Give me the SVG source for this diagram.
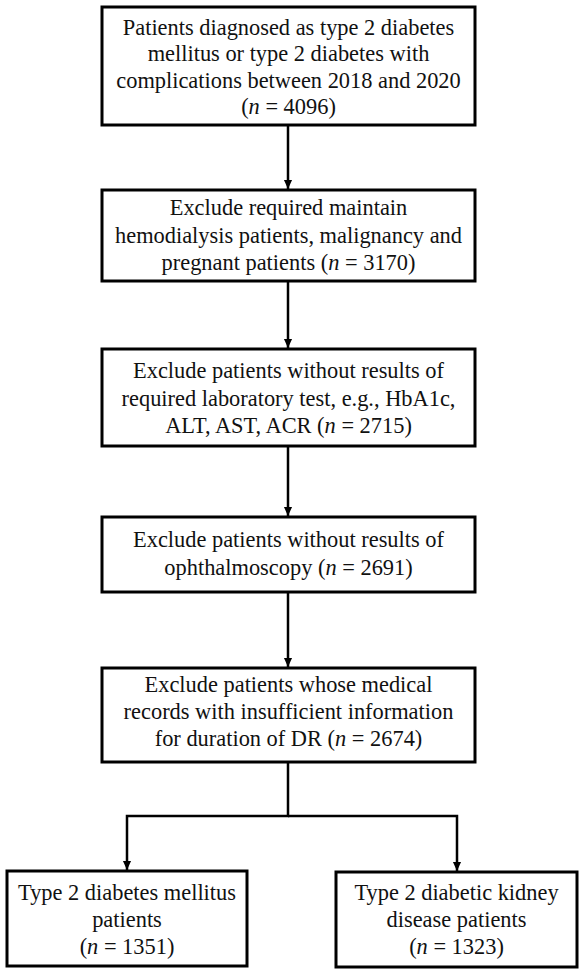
<svg xmlns="http://www.w3.org/2000/svg" width="583" height="971" viewBox="0 0 583 971">
<style>
.box{fill:#fff;stroke:#000;stroke-width:3}
.t{font-family:'Liberation Serif','Times New Roman',Tinos,'DejaVu Serif',serif;font-size:22.4px;fill:#111;text-anchor:middle}
.i{font-style:italic}
.c{fill:none;stroke:#000;stroke-width:2.5}
</style>
<defs>
<marker id="arr" markerWidth="9" markerHeight="10" refX="10" refY="4.5" orient="auto" markerUnits="userSpaceOnUse" viewBox="0 0 10 9">
<path d="M0,0 L10,4.5 L0,9 Z" fill="#000"/>
</marker>
</defs>
<rect width="583" height="971" fill="#fff"/>
<g id="connectors">
<line class="c" x1="288" y1="125" x2="288" y2="189" marker-end="url(#arr)"/>
<line class="c" x1="288" y1="281" x2="288" y2="348" marker-end="url(#arr)"/>
<line class="c" x1="288" y1="446" x2="288" y2="516" marker-end="url(#arr)"/>
<line class="c" x1="288" y1="592" x2="288" y2="667" marker-end="url(#arr)"/>
<polyline class="c" points="288,762 288,816 127,816 127,870" marker-end="url(#arr)"/>
<polyline class="c" points="288,816 457,816 457,871" marker-end="url(#arr)"/>
</g>
<g id="n1">
<rect class="box" x="102" y="7" width="373" height="118"/>
<text class="t" x="288.5" y="35">Patients diagnosed as type 2 diabetes</text>
<text class="t" x="288.5" y="61">mellitus or type 2 diabetes with</text>
<text class="t" x="288.5" y="88">complications between 2018 and 2020</text>
<text class="t" x="288.5" y="114">(<tspan class="i">n</tspan> = 4096)</text>
</g>
<g id="n2">
<rect class="box" x="102" y="190" width="373" height="91"/>
<text class="t" x="288.5" y="215">Exclude required maintain</text>
<text class="t" x="288.5" y="243">hemodialysis patients, malignancy and</text>
<text class="t" x="288.5" y="270">pregnant patients (<tspan class="i">n</tspan> = 3170)</text>
</g>
<g id="n3">
<rect class="box" x="102" y="349" width="373" height="97"/>
<text class="t" x="288.5" y="378">Exclude patients without results of</text>
<text class="t" x="288.5" y="406">required laboratory test, e.g., HbA1c,</text>
<text class="t" x="288.5" y="433">ALT, AST, ACR (<tspan class="i">n</tspan> = 2715)</text>
</g>
<g id="n4">
<rect class="box" x="102" y="517" width="373" height="75"/>
<text class="t" x="288.5" y="547">Exclude patients without results of</text>
<text class="t" x="288.5" y="575">ophthalmoscopy (<tspan class="i">n</tspan> = 2691)</text>
</g>
<g id="n5">
<rect class="box" x="102" y="668" width="373" height="94"/>
<text class="t" x="288.5" y="692">Exclude patients whose medical</text>
<text class="t" x="288.5" y="719">records with insufficient information</text>
<text class="t" x="288.5" y="746">for duration of DR (<tspan class="i">n</tspan> = 2674)</text>
</g>
<g id="n6">
<rect class="box" x="7" y="871" width="240" height="95"/>
<text class="t" x="127" y="900">Type 2 diabetes mellitus</text>
<text class="t" x="127" y="927">patients</text>
<text class="t" x="127" y="954">(<tspan class="i">n</tspan> = 1351)</text>
</g>
<g id="n7">
<rect class="box" x="336" y="872" width="241" height="95"/>
<text class="t" x="456.5" y="900">Type 2 diabetic kidney</text>
<text class="t" x="456.5" y="927">disease patients</text>
<text class="t" x="456.5" y="954">(<tspan class="i">n</tspan> = 1323)</text>
</g>
</svg>
